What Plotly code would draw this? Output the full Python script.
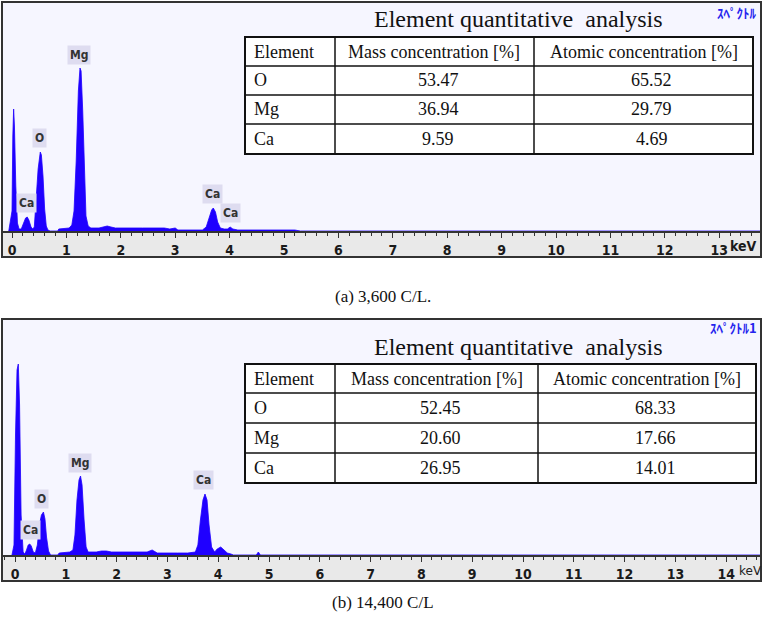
import plotly.graph_objects as go

W, H = 767, 622

# ---------------- data ----------------
# (a) 3,600 C/L spectrum, digitised (keV, counts)
energy_a = [-0.06, 0.0, 0.015, 0.03, 0.045, 0.07, 0.10, 0.13, 0.17, 0.21, 0.25, 0.28, 0.31, 0.35, 0.38,
            0.41, 0.44, 0.48, 0.52, 0.54, 0.57, 0.60, 0.63, 0.66, 0.70, 0.84, 0.86, 1.05, 1.10, 1.14,
            1.18, 1.22, 1.25, 1.27, 1.30, 1.33, 1.36, 1.40, 1.45, 1.60, 1.68, 1.75, 1.82, 1.90, 2.40,
            2.80, 2.90, 3.00, 3.05, 3.50, 3.57, 3.62, 3.67, 3.70, 3.74, 3.78, 3.83, 3.90, 3.96, 4.01,
            4.06, 4.15, 4.50, 5.00, 5.20, 5.30, 13.8]
counts_a = [0, 20, 95, 122, 105, 45, 8, 2, 2, 8, 13, 14, 11, 4, 2,
            4, 25, 62, 79, 76, 55, 22, 5, 1, 0, 0, 2, 3, 6, 20,
            70, 140, 163, 160, 120, 55, 15, 5, 3, 3, 4, 5, 4, 3, 3,
            3, 2, 3, 1, 1, 4, 12, 21, 23, 19, 9, 3, 2, 2, 4,
            2, 1, 1, 1, 1, 0, 0]

# (b) 14,400 C/L spectrum, digitised (keV, counts)
energy_b = [-0.06, -0.02, 0.01, 0.04, 0.065, 0.09, 0.12, 0.16, 0.19, 0.22, 0.26, 0.29, 0.32, 0.36, 0.40,
            0.44, 0.48, 0.52, 0.56, 0.59, 0.62, 0.66, 0.70, 0.84, 0.87, 1.08, 1.14, 1.18, 1.22, 1.26,
            1.29, 1.32, 1.36, 1.40, 1.44, 1.60, 1.70, 1.80, 1.90, 2.30, 2.60, 2.70, 2.80, 3.20, 3.40,
            3.55, 3.60, 3.65, 3.70, 3.74, 3.78, 3.82, 3.87, 3.93, 3.98, 4.05, 4.12, 4.18, 4.25, 4.30,
            4.75, 4.79, 4.83, 14.8]
counts_b = [0, 10, 120, 185, 191, 150, 40, 3, 1, 4, 10, 11, 9, 3, 2,
            10, 30, 40, 43, 36, 18, 4, 0, 0, 2, 3, 5, 20, 55, 75,
            79, 70, 35, 8, 3, 3, 4, 4, 3, 3, 3, 5, 2, 2, 2,
            3, 10, 35, 55, 61, 55, 30, 8, 3, 6, 8, 5, 2, 1, 0,
            0, 3, 0, 0]

# peak labels
labels_a = ["Ca", "O", "Mg", "Ca", "Ca"]
label_a_keV = [0.27, 0.50, 1.23, 3.69, 4.02]
label_a_cnt = [28, 93, 176, 37, 18]

labels_b = ["Ca", "O", "Mg", "Ca"]
label_b_keV = [0.31, 0.53, 1.28, 3.71]
label_b_cnt = [25, 56, 92, 75]

ticks_a = list(range(0, 14))
ticks_b = list(range(0, 15))

# tables
table_title = "Element quantitative  analysis"
table_header = ["Element", "Mass concentration [%]", "Atomic concentration [%]"]
elements = ["O", "Mg", "Ca"]
mass_a = ["53.47", "36.94", "9.59"]
atomic_a = ["65.52", "29.79", "4.69"]
mass_b = ["52.45", "20.60", "26.95"]
atomic_b = ["68.33", "17.66", "14.01"]

caption_a = "(a) 3,600 C/L."
caption_b = "(b) 14,400 C/L"
tag_a = "ｽﾍﾟｸﾄﾙ"
tag_b = "ｽﾍﾟｸﾄﾙ1"

# ---------------- helpers ----------------
def PX(x):
    return x / W

def PY(y):
    return 1 - y / H

BLUE = "#1f00ff"
FRAME = "#333333"
SERIF = "Liberation Serif"

fig = go.Figure()
fig.add_trace(go.Scatter(x=energy_a, y=counts_a, mode="lines", fill="tozeroy",
                         line=dict(color=BLUE, width=0.8), fillcolor=BLUE,
                         xaxis="x", yaxis="y", hoverinfo="skip", showlegend=False))
fig.add_trace(go.Scatter(x=energy_b, y=counts_b, mode="lines", fill="tozeroy",
                         line=dict(color=BLUE, width=0.8), fillcolor=BLUE,
                         xaxis="x2", yaxis="y2", hoverinfo="skip", showlegend=False))

tickfont = dict(family="Liberation Sans Narrow, DejaVu Sans Condensed, DejaVu Sans", size=14,
                color="#1a1a1a", weight="bold")


def xaxis_cfg(zero_px, per_keV, ticks):
    return dict(
        domain=[PX(2), PX(761)],
        range=[(2 - zero_px) / per_keV, (761 - zero_px) / per_keV],
        tickvals=ticks, ticktext=[str(t) for t in ticks],
        ticks="outside", ticklen=5, tickwidth=1, tickcolor=FRAME,
        showline=True, linecolor=FRAME, linewidth=1.5,
        showgrid=False, zeroline=False, fixedrange=True,
        minor=dict(dtick=0.2, ticks="outside", ticklen=3, tickcolor=FRAME, showgrid=False),
        tickfont=tickfont, ticklabelstandoff=0,
    )


layout_shapes = []
layout_ann = []

# panel geometry (pixels)
panels = [
    dict(top=2, base=231, bottom=257, ax="x", ay="y",
         rows=[37, 66, 95, 124, 154], cols=[245, 335, 534, 753], title_y=19,
         mass=mass_a, atomic=atomic_a, labels=labels_a, lk=label_a_keV, lc=label_a_cnt,
         tag=tag_a, tag_y=12, caption=caption_a, cap_y=296),
    dict(top=319, base=555, bottom=581, ax="x2", ay="y2",
         rows=[364, 393, 423, 453, 483], cols=[245, 335, 538, 756], title_y=347,
         mass=mass_b, atomic=atomic_b, labels=labels_b, lk=label_b_keV, lc=label_b_cnt,
         tag=tag_b, tag_y=327, caption=caption_b, cap_y=602),
]

for p in panels:
    # grey axis strip
    layout_shapes.append(dict(type="rect", xref="paper", yref="paper", layer="below",
                              x0=PX(2), x1=PX(761), y0=PY(p["bottom"]), y1=PY(p["base"]),
                              fillcolor="#e9e9e9", line=dict(width=0)))
    # outer frame
    layout_shapes.append(dict(type="rect", xref="paper", yref="paper", layer="above",
                              x0=PX(2), x1=PX(761), y0=PY(p["bottom"]), y1=PY(p["top"]),
                              line=dict(color=FRAME, width=2)))
    # table
    r, c = p["rows"], p["cols"]
    layout_shapes.append(dict(type="rect", xref="paper", yref="paper", layer="above",
                              x0=PX(c[0]), x1=PX(c[-1]), y0=PY(r[-1]), y1=PY(r[0]),
                              fillcolor="white", line=dict(color="#111111", width=2)))
    for yy in r[1:-1]:
        layout_shapes.append(dict(type="line", xref="paper", yref="paper", layer="above",
                                  x0=PX(c[0]), x1=PX(c[-1]), y0=PY(yy), y1=PY(yy),
                                  line=dict(color="#111111", width=1.5)))
    for xx in c[1:-1]:
        layout_shapes.append(dict(type="line", xref="paper", yref="paper", layer="above",
                                  x0=PX(xx), x1=PX(xx), y0=PY(r[-1]), y1=PY(r[0]),
                                  line=dict(color="#111111", width=1.5)))
    tf = dict(family=SERIF, size=18, color="#111111")
    # title
    layout_ann.append(dict(x=PX(518), y=PY(p["title_y"]), xref="paper", yref="paper",
                           text=table_title, showarrow=False, xanchor="center", yanchor="middle",
                           font=dict(family=SERIF, size=24, color="#111111")))
    # header
    yc = PY((r[0] + r[1]) / 2)
    layout_ann.append(dict(x=PX(c[0] + 7), y=yc, xref="paper", yref="paper", text=table_header[0],
                           showarrow=False, xanchor="left", yanchor="middle", font=tf))
    for k in (1, 2):
        layout_ann.append(dict(x=PX((c[k] + c[k + 1]) / 2), y=yc, xref="paper", yref="paper",
                               text=table_header[k], showarrow=False, xanchor="center",
                               yanchor="middle", font=tf))
    for j, el in enumerate(elements):
        yc = PY((r[j + 1] + r[j + 2]) / 2)
        layout_ann.append(dict(x=PX(c[0] + 7), y=yc, xref="paper", yref="paper", text=el,
                               showarrow=False, xanchor="left", yanchor="middle", font=tf))
        layout_ann.append(dict(x=PX((c[1] + c[2]) / 2 + 4), y=yc, xref="paper", yref="paper",
                               text=p["mass"][j], showarrow=False, xanchor="center",
                               yanchor="middle", font=tf))
        layout_ann.append(dict(x=PX((c[2] + c[3]) / 2 + 8), y=yc, xref="paper", yref="paper",
                               text=p["atomic"][j], showarrow=False, xanchor="center",
                               yanchor="middle", font=tf))
    # spectrum tag
    layout_ann.append(dict(x=PX(759), y=PY(p["tag_y"]), xref="paper", yref="paper", text=p["tag"],
                           showarrow=False, xanchor="right", yanchor="middle",
                           font=dict(family="Noto Sans CJK JP", size=13, color="#2424ee",
                                     weight="bold")))
    # caption
    layout_ann.append(dict(x=PX(383), y=PY(p["cap_y"]), xref="paper", yref="paper", text=p["caption"],
                           showarrow=False, xanchor="center", yanchor="middle",
                           font=dict(family=SERIF, size=17, color="#111111")))
    # peak labels
    for t, kx, ky in zip(p["labels"], p["lk"], p["lc"]):
        layout_ann.append(dict(x=kx, y=ky, xref=p["ax"], yref=p["ay"], text=t, showarrow=False,
                               xanchor="center", yanchor="middle", bgcolor="#dedcf0", borderpad=2,
                               font=dict(family="DejaVu Sans Condensed, DejaVu Sans", size=12,
                                         color="#333333", weight="bold")))

# keV units after last tick
layout_ann.append(dict(x=PX(728), y=PY(246), xref="paper", yref="paper", text="keV", showarrow=False,
                       xanchor="left", yanchor="middle", font=tickfont))
layout_ann.append(dict(x=PX(737), y=PY(571), xref="paper", yref="paper", text="keV", showarrow=False,
                       xanchor="left", yanchor="middle",
                       font=dict(family="DejaVu Sans", size=12, color="#222222")))

fig.update_layout(
    width=W, height=H, margin=dict(l=0, r=0, t=0, b=0),
    paper_bgcolor="white", plot_bgcolor="#f6f6ff", showlegend=False,
    xaxis=xaxis_cfg(12, 54.4, ticks_a) | dict(anchor="y"),
    yaxis=dict(domain=[PY(231), PY(2)], range=[0, 229], visible=False, fixedrange=True, anchor="x"),
    xaxis2=xaxis_cfg(15, 50.8, ticks_b) | dict(anchor="y2"),
    yaxis2=dict(domain=[PY(555), PY(319)], range=[0, 236], visible=False, fixedrange=True, anchor="x2"),
    shapes=layout_shapes, annotations=layout_ann,
)

fig.write_html("out.html", config={"displayModeBar": False},
               post_script="document.body.style.margin='0px';document.body.style.overflow='hidden';")
